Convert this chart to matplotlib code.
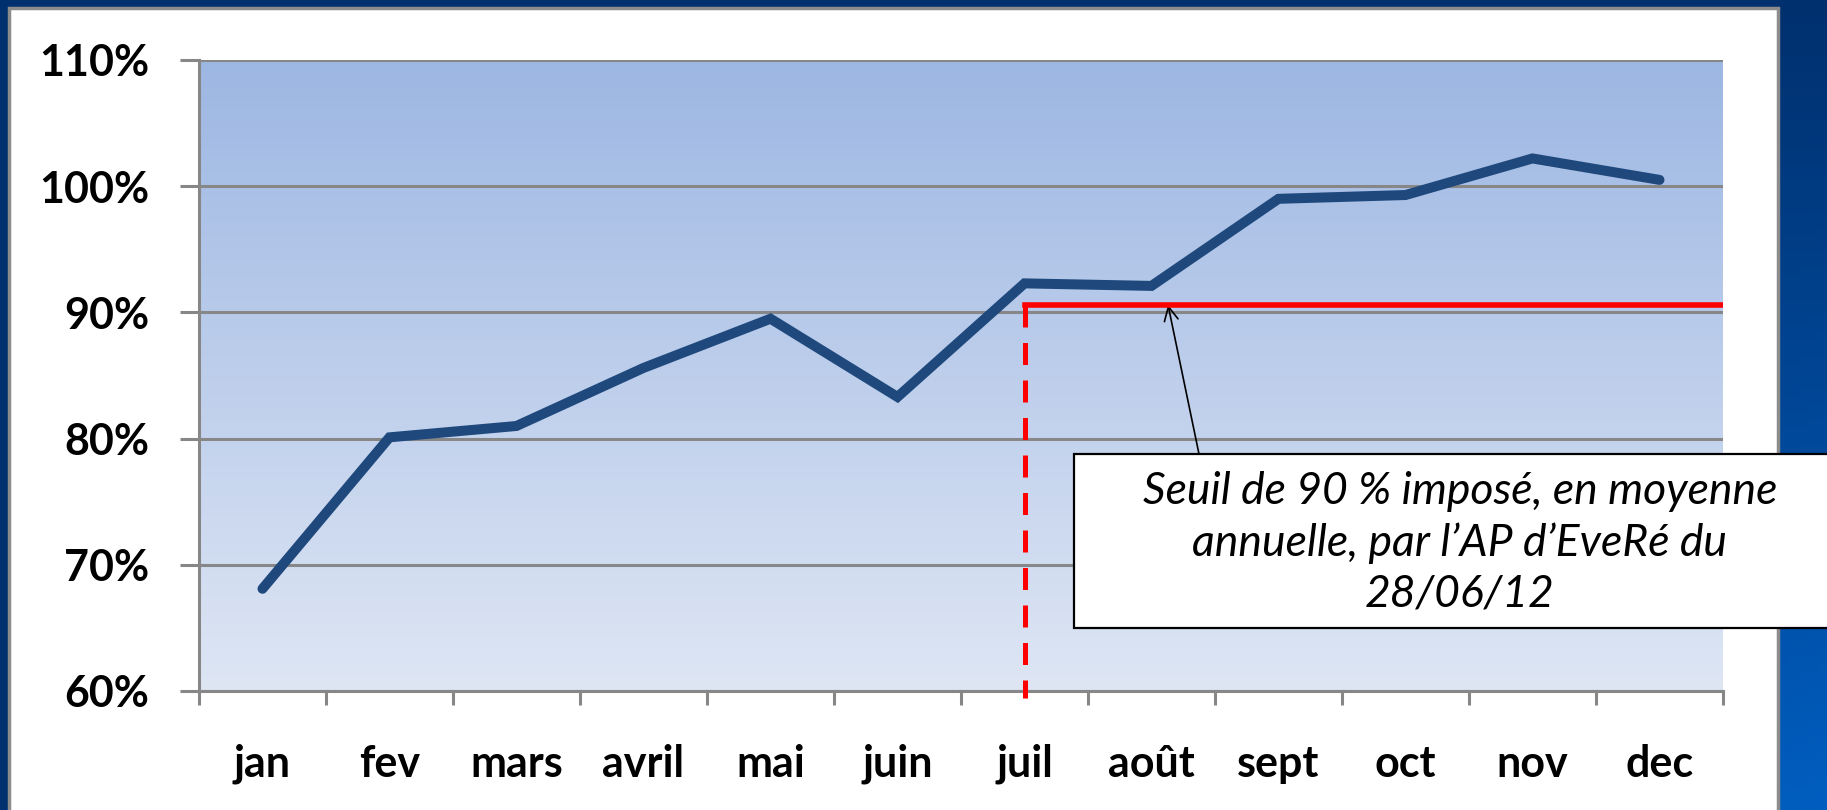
import numpy as np
import matplotlib
matplotlib.use("Agg")
from matplotlib import pyplot as plt
from matplotlib.patches import Rectangle

mois = ["jan", "fev", "mars", "avril", "mai", "juin",
        "juil", "août", "sept", "oct", "nov", "dec"]
taux = [68.1, 80.1, 81.0, 85.6, 89.5, 83.3,
        92.3, 92.1, 99.0, 99.3, 102.2, 100.5]
seuil = 90.6
debut_seuil = 6  # juil
y_ticks = [60, 70, 80, 90, 100, 110]
texte = "Seuil de 90 % imposé, en moyenne\nannuelle, par l’AP d’EveRé du\n28/06/12"

W, H = 1827, 810
fig = plt.figure(figsize=(W / 100, H / 100), dpi=100)

# background: blue gradient + white card
bg = fig.add_axes([0, 0, 1, 1], zorder=-2)
bg.set_axis_off()
xx, yy = np.meshgrid(np.linspace(0, 1, 200), np.linspace(0, 1, 100))
t = (xx * yy)[..., None]
c0 = np.array([0, 48, 110]) / 255
c1 = np.array([0, 94, 192]) / 255
bg.imshow(c0 + (c1 - c0) * t, extent=[0, 1, 0, 1], aspect="auto", origin="upper")
bg.add_patch(Rectangle((9 / W, -0.1), (1778 - 9) / W, 1.1 - 8 / H,
                       facecolor="white", edgecolor="#8c8c8c", lw=2.5))
bg.set_xlim(0, 1)
bg.set_ylim(0, 1)

ax = fig.add_axes([199 / W, 1 - 691 / H, (1723 - 199) / W, (691 - 60) / H])
ax.set_xlim(-0.5, len(mois) - 0.5)
ax.set_ylim(60, 110)

# plot area gradient
top = np.array([157, 183, 227]) / 255
bot = np.array([222, 230, 244]) / 255
g = np.linspace(0, 1, 256)[:, None, None]
ax.imshow(np.repeat(top + (bot - top) * g, 2, axis=1),
          extent=[-0.5, len(mois) - 0.5, 60, 110], aspect="auto", zorder=0)

x = np.arange(len(mois))
ax.plot(x, taux, color="#1f497d", lw=7.2, solid_capstyle="round",
        solid_joinstyle="miter", zorder=3)

# threshold
ax.plot([debut_seuil, len(mois) - 0.5], [seuil, seuil], color="#ff0000", lw=4.0, zorder=4)
ax.plot([debut_seuil, debut_seuil], [seuil, 59.45], color="#ff0000", lw=3.6,
        dashes=(4.4, 3.1), clip_on=False, zorder=4)

# axes styling
for s in ["top", "right"]:
    ax.spines[s].set_visible(False)
for s in ["left", "bottom"]:
    ax.spines[s].set_color("#878787")
    ax.spines[s].set_linewidth(2.2)
ax.set_yticks(y_ticks)
ax.set_yticklabels([f"{v}%" for v in y_ticks])
ax.yaxis.grid(True, color="#878787", lw=2.2)
for gl in ax.get_ygridlines():
    gl.set_zorder(1)
ax.set_xticks(x)
ax.set_xticklabels(mois)
ax.set_xticks(np.arange(-0.5, len(mois)), minor=True)
ax.tick_params(axis="x", which="major", length=0, pad=38)
ax.tick_params(axis="x", which="minor", length=10, width=2.2, color="#878787")
ax.tick_params(axis="y", length=13.7, width=2.2, color="#878787", pad=22)
for lab in ax.get_xticklabels() + ax.get_yticklabels():
    lab.set_fontfamily("Lato")
    lab.set_fontweight("bold")
    lab.set_fontsize(31)
    lab.set_color("black")

# annotation box
fig.add_artist(Rectangle((1074 / W, 1 - 628 / H), (1900 - 1074) / W, (628 - 454) / H,
                         transform=fig.transFigure, facecolor="white",
                         edgecolor="black", lw=1.6, zorder=5))
fig.text(1460 / W, 1 - 543 / H, texte, ha="center", va="center", fontsize=32,
         family="Lato", style="italic", linespacing=1.3, zorder=6)
ax.annotate("", xy=(7.13, seuil), xytext=(1199 / W, 1 - 454 / H),
            textcoords="figure fraction", annotation_clip=False,
            arrowprops=dict(arrowstyle="->", color="black", lw=1.2,
                            mutation_scale=25, shrinkA=0, shrinkB=0))

fig.savefig("out.png", dpi=100)
